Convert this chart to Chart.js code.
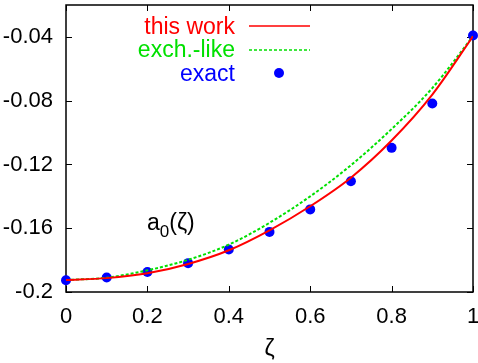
<!DOCTYPE html>
<html>
<head>
<meta charset="utf-8">
<script src="https://cdn.jsdelivr.net/npm/chart.js@4"></script>
<style>
  html, body { margin: 0; padding: 0; background: #fff; }
  canvas { display: block; }
</style>
</head>
<body>
<canvas id="chart" width="478" height="363"></canvas>
<script>
// a0(zeta) curves, values
const zeta = [0, 0.1, 0.2, 0.3, 0.4, 0.5, 0.6, 0.7, 0.8, 0.9, 1];
const thisWork = [-0.1925, -0.1913, -0.1883, -0.1824, -0.1738, -0.1613, -0.1462, -0.1283, -0.1050, -0.0762, -0.0396];
const exchLike = [-0.1925, -0.1910, -0.1864, -0.1798, -0.1703, -0.1566, -0.1400, -0.1205, -0.0978, -0.0721, -0.0396];
const exact = [-0.1926, -0.1909, -0.1875, -0.1819, -0.1733, -0.1623, -0.1482, -0.1305, -0.1096, -0.0818, -0.0391];

const xTicks = [0, 0.2, 0.4, 0.6, 0.8, 1];
const yTicks = [-0.2, -0.16, -0.12, -0.08, -0.04];
const legendLabels = ['this work', 'exch.-like', 'exact'];

const FONT = 'Liberation Sans, Arial, Helvetica, sans-serif';
const RED = '#ff0000', GREEN = '#00e000', BLUE = '#0000ff';

const toXY = ys => zeta.map((z, i) => ({ x: z, y: ys[i] }));
const fmt = v => String(+v.toFixed(2));
const noPad = s => { s.paddingLeft = s.paddingRight = s.paddingTop = s.paddingBottom = 0; };

// gnuplot-style box with inward ticks on all four sides
const frame = {
    id: 'frame',
    beforeDatasetsDraw(chart) {
        const { ctx, chartArea: a, scales } = chart;
        const len = 6;
        ctx.save();
        ctx.strokeStyle = '#000';
        ctx.lineWidth = 1.5;
        ctx.strokeRect(a.left, a.top, a.right - a.left, a.bottom - a.top);
        ctx.lineWidth = 1;
        ctx.beginPath();
        xTicks.forEach(v => {
            const px = Math.round(scales.x.getPixelForValue(v)) + 0.5;
            ctx.moveTo(px, a.bottom); ctx.lineTo(px, a.bottom - len);
            ctx.moveTo(px, a.top); ctx.lineTo(px, a.top + len);
        });
        yTicks.forEach(v => {
            const py = Math.round(scales.y.getPixelForValue(v)) + 0.5;
            ctx.moveTo(a.left, py); ctx.lineTo(a.left + len, py);
            ctx.moveTo(a.right, py); ctx.lineTo(a.right - len, py);
        });
        ctx.stroke();
        ctx.restore();
    }
};

// key in the top-right corner plus the a0(zeta) label
const keyAndLabel = {
    id: 'keyAndLabel',
    afterDraw(chart) {
        const { ctx } = chart;
        const textRight = 235, lineL = 249, lineR = 310;
        const rows = [26, 50, 73];
        const baselines = [34, 57, 81];
        const colors = [RED, GREEN, BLUE];
        ctx.save();
        ctx.font = '23px ' + FONT;
        ctx.textAlign = 'right';
        ctx.textBaseline = 'alphabetic';
        legendLabels.forEach((t, i) => {
            ctx.fillStyle = colors[i];
            ctx.fillText(t, textRight, baselines[i]);
        });
        ctx.lineWidth = 1.5;
        ctx.strokeStyle = RED;
        ctx.beginPath(); ctx.moveTo(lineL, rows[0]); ctx.lineTo(lineR, rows[0]); ctx.stroke();
        ctx.strokeStyle = GREEN;
        ctx.setLineDash([3, 2]);
        ctx.beginPath(); ctx.moveTo(lineL, rows[1]); ctx.lineTo(lineR, rows[1]); ctx.stroke();
        ctx.setLineDash([]);
        ctx.fillStyle = BLUE;
        ctx.beginPath(); ctx.arc(279, rows[2], 5, 0, Math.PI * 2); ctx.fill();

        // a0(ζ)
        ctx.fillStyle = '#000';
        ctx.textAlign = 'left';
        let x = 147;
        ctx.font = '23px ' + FONT;
        ctx.fillText('a', x, 230);
        x += ctx.measureText('a').width;
        ctx.font = '17px ' + FONT;
        ctx.fillText('0', x, 237);
        x += ctx.measureText('0').width;
        ctx.font = '23px ' + FONT;
        ctx.fillText('(ζ)', x, 230);
        ctx.restore();
    }
};

new Chart(document.getElementById('chart'), {
    type: 'line',
    data: {
        datasets: [
            {
                label: legendLabels[0],
                data: toXY(thisWork),
                borderColor: RED,
                borderWidth: 2,
                pointRadius: 0,
                cubicInterpolationMode: 'monotone',
                fill: false
            },
            {
                label: legendLabels[1],
                data: toXY(exchLike),
                borderColor: GREEN,
                borderWidth: 2,
                borderDash: [3, 2],
                pointRadius: 0,
                cubicInterpolationMode: 'monotone',
                fill: false
            },
            {
                label: legendLabels[2],
                data: toXY(exact),
                showLine: false,
                pointRadius: 5,
                pointBackgroundColor: BLUE,
                pointBorderColor: BLUE,
                pointBorderWidth: 0,
                clip: false
            }
        ]
    },
    options: {
        responsive: false,
        devicePixelRatio: 1,
        animation: false,
        layout: { padding: { top: 1, right: 4, left: 0, bottom: 0 } },
        plugins: { legend: { display: false }, tooltip: { enabled: false } },
        scales: {
            x: {
                type: 'linear',
                min: 0,
                max: 1,
                afterFit: s => { s.height = 71; noPad(s); },
                afterBuildTicks: s => { s.ticks = xTicks.map(v => ({ value: v })); },
                grid: { display: false, drawTicks: false },
                border: { display: false },
                ticks: { color: '#000', padding: 12, font: { family: FONT, size: 22 }, callback: fmt },
                title: {
                    display: true,
                    text: 'ζ',
                    color: '#000',
                    padding: 0,
                    font: { family: FONT, size: 23 }
                }
            },
            y: {
                type: 'linear',
                min: -0.2,
                max: -0.02,
                afterFit: s => { s.width = 66; noPad(s); },
                afterBuildTicks: s => { s.ticks = yTicks.map(v => ({ value: v })); },
                grid: { display: false, drawTicks: false },
                border: { display: false },
                ticks: { color: '#000', padding: 13, font: { family: FONT, size: 22 }, callback: fmt }
            }
        }
    },
    plugins: [frame, keyAndLabel]
});
</script>
</body>
</html>
